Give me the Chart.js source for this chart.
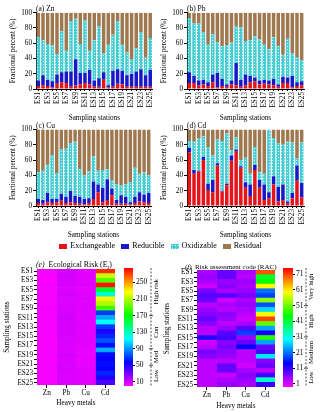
<!DOCTYPE html>
<html>
<head>
<meta charset="utf-8">
<script src="https://cdn.jsdelivr.net/npm/chart.js@4.4.1/dist/chart.umd.min.js"></script>
<style>
  body { margin: 0; background: #fff; }
  #wrap { position: relative; width: 321px; height: 412px; overflow: hidden; font-family: "Liberation Serif", serif; }
  #wrap canvas { position: absolute; }
  #legend { position: absolute; left: 0; top: 241px; width: 321px; height: 10px; display: flex; justify-content: center; align-items: center; font-size: 8px; line-height: 10px; }
  #legend .item { display: flex; align-items: center; margin: 0 3px; }
  #legend .sw { display: inline-block; width: 8px; height: 5px; margin-right: 3px; }
</style>
</head>
<body>
<div id="wrap">
  <canvas id="chartA" width="160" height="122" style="left:0px;top:0px"></canvas>
  <canvas id="chartB" width="161" height="122" style="left:160px;top:0px"></canvas>
  <canvas id="chartC" width="160" height="122" style="left:0px;top:117px"></canvas>
  <canvas id="chartD" width="161" height="122" style="left:160px;top:117px"></canvas>
  <div id="legend"></div>
  <canvas id="chartE" width="122" height="157" style="left:0px;top:255px"></canvas>
  <canvas id="barE" width="50" height="157" style="left:118px;top:255px"></canvas>
  <canvas id="chartF" width="120" height="157" style="left:160px;top:255px"></canvas>
  <canvas id="barF" width="44" height="157" style="left:277px;top:255px"></canvas>
</div>
<script>
// ---- data ----
const stations = ["ES1", "ES2", "ES3", "ES4", "ES5", "ES6", "ES7", "ES8", "ES9", "ES10", "ES11", "ES12", "ES13",
	"ES14", "ES15", "ES16", "ES17", "ES18", "ES19", "ES20", "ES21", "ES22", "ES23", "ES24", "ES25"];
const metals = ["Zn", "Pb", "Cu", "Cd"];
const fractions = ["Exchangeable", "Reducible", "Oxidizable", "Residual"];

// fractional percent (%), one value per station
const znExch = [4, 5, 4, 2, 7, 9, 8, 3, 5, 6, 8, 6, 3, 3, 12, 2, 3, 7, 6, 3, 3, 3, 3, 3, 3];
const znRed = [7, 13, 8, 8, 12, 13, 15, 20, 34, 15, 13, 19, 8, 11, 10, 3, 21, 19, 18, 15, 17, 20, 23, 15, 22];
const znOxi = [57, 46, 47, 47, 27, 54, 27, 66, 53, 38, 69, 25, 53, 68, 25, 53, 47, 63, 34, 30, 19, 30, 48, 23, 42];
const znRes = [32, 36, 41, 43, 54, 24, 50, 11, 8, 41, 10, 50, 36, 18, 53, 42, 29, 11, 42, 52, 61, 47, 26, 59, 33];

const pbExch = [8, 8, 5, 6, 4, 9, 2, 4, 3, 6, 5, 3, 5, 9, 10, 6, 7, 6, 5, 3, 8, 8, 2, 4, 5];
const pbRed = [14, 9, 6, 6, 5, 10, 19, 9, 3, 5, 29, 9, 14, 8, 5, 5, 5, 5, 8, 3, 8, 7, 15, 5, 5];
const pbOxi = [71, 69, 75, 62, 49, 53, 40, 43, 51, 50, 48, 69, 44, 47, 54, 54, 46, 41, 55, 50, 29, 51, 30, 33, 28];
const pbRes = [7, 14, 14, 26, 42, 28, 39, 44, 43, 39, 18, 19, 37, 36, 31, 35, 42, 48, 32, 44, 55, 34, 53, 58, 62];

const cuExch = [4, 3, 5, 4, 5, 7, 4, 5, 4, 3, 2, 4, 9, 18, 5, 8, 14, 3, 3, 3, 2, 4, 6, 5, 4];
const cuRed = [5, 5, 12, 5, 4, 9, 8, 15, 9, 9, 7, 6, 23, 10, 19, 27, 9, 5, 11, 9, 3, 8, 12, 10, 13];
const cuOxi = [35, 38, 37, 57, 34, 58, 63, 62, 71, 36, 31, 35, 33, 18, 23, 13, 11, 20, 13, 16, 26, 38, 24, 29, 23];
const cuRes = [56, 54, 46, 34, 57, 26, 25, 18, 16, 52, 60, 55, 35, 54, 53, 52, 66, 72, 73, 72, 69, 50, 58, 56, 60];

const cdExch = [70, 42, 45, 60, 21, 18, 53, 19, 27, 59, 71, 50, 24, 13, 47, 24, 8, 10, 28, 6, 8, 3, 10, 33, 11];
const cdRed = [6, 5, 1, 4, 8, 16, 3, 1, 2, 7, 3, 2, 7, 15, 7, 10, 20, 8, 11, 19, 20, 3, 7, 20, 19];
const cdOxi = [9, 37, 42, 27, 48, 32, 31, 65, 66, 7, 16, 8, 32, 14, 23, 10, 14, 81, 50, 57, 52, 78, 66, 9, 53];
const cdRes = [15, 16, 12, 9, 23, 34, 13, 15, 5, 27, 10, 40, 37, 58, 23, 56, 58, 1, 11, 18, 20, 16, 17, 38, 17];

// ecological risk factor Er
const erZn = [2, 2, 1, 2, 2, 2, 2, 2, 3, 2, 2, 2, 2, 2, 2, 1, 2, 2, 2, 2, 2, 2, 2, 2, 2];
const erPb = [9, 10, 9, 9, 8, 9, 8, 8, 8, 9, 10, 9, 9, 9, 9, 8, 8, 8, 9, 8, 8, 9, 8, 8, 8];
const erCu = [6, 6, 6, 7, 6, 7, 7, 7, 7, 6, 6, 6, 7, 6, 6, 6, 6, 5, 5, 5, 5, 6, 6, 6, 6];
const erCd = [275, 215, 190, 280, 160, 125, 230, 210, 185, 70, 95, 115, 70, 50, 65, 75, 60, 95, 60, 55, 60, 55, 65, 50, 40];

// colour bar ticks and risk classes
const erTicks = [10, 30, 50, 70, 90, 110, 130, 150, 170, 190, 210, 230, 250, 270];
const erBounds = [50, 90, 170];
const erClasses = ["Low", "Med", "Con", "High risk"];
const racTicks = [1, 11, 21, 31, 41, 51, 61, 71];
const racBounds = [11, 31, 51];
const racClasses = ["Low", "Medium", "High", "Very high"];

// ---- styles ----
Chart.defaults.font.family = '"Liberation Serif", "Times New Roman", serif';
Chart.defaults.font.size = 7.2;
Chart.defaults.color = "#000";

const fractionColors = ["#e3151b", "#1818c8", "#45cdd3", "#a07850"];
const rainbowStops = [
	[0, [255, 0, 255]],
	[0.2, [0, 0, 255]],
	[0.4, [0, 255, 255]],
	[0.6, [0, 255, 0]],
	[0.8, [255, 255, 0]],
	[1, [255, 0, 0]],
];

function rainbow(t) {
	t = Math.max(0, Math.min(1, t));
	for (let i = 1; i < rainbowStops.length; i++) {
		const [p1, c1] = rainbowStops[i];
		const [p0, c0] = rainbowStops[i - 1];
		if (t <= p1) {
			const f = (t - p0) / (p1 - p0);
			const c = c0.map((v, k) => Math.round(v + (c1[k] - v) * f));
			return `rgb(${c[0]},${c[1]},${c[2]})`;
		}
	}
	return "rgb(255,0,0)";
}

// dotted tile for the oxidizable fraction
const dotTile = document.createElement("canvas");
dotTile.width = 3;
dotTile.height = 3;
const tctx = dotTile.getContext("2d");
tctx.fillStyle = fractionColors[2];
tctx.fillRect(0, 0, 3, 3);
tctx.fillStyle = "#d6f6f6";
tctx.fillRect(1, 1, 1, 1);

/*######################################*
||            Small plugins            ||
*######################################*/

// panel caption drawn above the plot area
const panelTitle = {
	id: "panelTitle",
	afterDraw(chart, args, opts) {
		const { ctx, chartArea } = chart;
		let x = chartArea.left + (opts.dx || 0);
		const y = chartArea.top - (opts.dy || 1.5);
		ctx.save();
		ctx.fillStyle = "#000";
		ctx.textBaseline = "alphabetic";
		opts.parts.forEach((p) => {
			const size = p.sub ? opts.size * 0.7 : opts.size;
			ctx.font = `${p.italic ? "italic " : ""}${size}px "Liberation Serif"`;
			ctx.fillText(p.text, x, p.sub ? y + 1.5 : y);
			x += ctx.measureText(p.text).width;
		});
		ctx.restore();
	},
};

// dashed bracket with risk classes next to a colour bar
const riskBracket = {
	id: "riskBracket",
	afterDraw(chart, args, opts) {
		const { ctx } = chart;
		const s = chart.scales.y;
		const x = s.right + 1;
		const edges = [s.min, ...opts.bounds, s.max];
		ctx.save();
		ctx.strokeStyle = "#000";
		ctx.lineWidth = 0.7;
		ctx.setLineDash([2, 1.5]);
		ctx.beginPath();
		ctx.moveTo(x, s.top);
		ctx.lineTo(x, s.bottom);
		ctx.stroke();
		ctx.setLineDash([]);
		opts.bounds.forEach((b) => {
			const y = s.getPixelForValue(b);
			ctx.beginPath();
			ctx.moveTo(x - 2, y);
			ctx.lineTo(x + 2, y);
			ctx.stroke();
		});
		ctx.font = '6.8px "Liberation Serif"';
		ctx.fillStyle = "#000";
		ctx.textAlign = "center";
		ctx.textBaseline = "middle";
		opts.names.forEach((n, i) => {
			const y = (s.getPixelForValue(edges[i]) + s.getPixelForValue(edges[i + 1])) / 2;
			ctx.save();
			ctx.translate(x + 5, y);
			ctx.rotate(-Math.PI / 2);
			ctx.fillText(n, 0, 0);
			ctx.restore();
		});
		ctx.restore();
	},
};

/*######################################*
||      Stacked fraction panels       ||
*######################################*/

function fractionPanel(id, caption, series, pad) {
	new Chart(document.getElementById(id), {
		type: "bar",
		data: {
			labels: stations,
			datasets: series.map((values, i) => ({
				label: fractions[i],
				data: values,
				backgroundColor: i === 2 ? (c) => c.chart.ctx.createPattern(dotTile, "repeat") : fractionColors[i],
			})),
		},
		options: {
			responsive: false,
			animation: false,
			layout: { padding: pad },
			datasets: { bar: { barPercentage: 0.75, categoryPercentage: 1, borderWidth: 0 } },
			plugins: {
				legend: { display: false },
				tooltip: { enabled: false },
				panelTitle: { parts: [{ text: caption }], size: 7.5, dx: 0 },
			},
			scales: {
				x: {
					stacked: true,
					grid: { drawOnChartArea: false, offset: false, tickLength: 2, color: "#000" },
					border: { color: "#000" },
					ticks: {
						autoSkip: false,
						minRotation: 90,
						maxRotation: 90,
						padding: 1,
						callback: (v, i) => (i % 2 === 0 ? stations[i] : ""),
					},
					title: { display: true, text: "Sampling stations", padding: 0 },
					afterFit: (s) => {
						s.height = 33;
					},
				},
				y: {
					stacked: true,
					min: 0,
					max: 100,
					ticks: { stepSize: 20, padding: 1 },
					grid: { drawOnChartArea: false, tickLength: 3, color: "#000" },
					border: { color: "#000" },
					title: { display: true, text: "Fractional percent (%)", padding: 0 },
					afterFit: (s) => {
						s.width = 27;
					},
				},
			},
		},
		plugins: [panelTitle],
	});
}

fractionPanel("chartA", "(a) Zn", [znExch, znRed, znOxi, znRes], { left: 9, right: 6, top: 12.7, bottom: 0 });
fractionPanel("chartB", "(b) Pb", [pbExch, pbRed, pbOxi, pbRes], { left: 0, right: 17, top: 12.7, bottom: 0 });
fractionPanel("chartC", "(c) Cu", [cuExch, cuRed, cuOxi, cuRes], { left: 9, right: 9, top: 12.5, bottom: 0 });
fractionPanel("chartD", "(d) Cd", [cdExch, cdRed, cdOxi, cdRes], { left: 0, right: 17, top: 12.5, bottom: 0 });

// legend under the four panels
const legendBox = document.getElementById("legend");
fractions.forEach((name, i) => {
	const item = document.createElement("span");
	item.className = "item";
	const sw = document.createElement("span");
	sw.className = "sw";
	sw.style.background = i === 2 ? `url(${dotTile.toDataURL()})` : fractionColors[i];
	item.appendChild(sw);
	item.appendChild(document.createTextNode(name));
	legendBox.appendChild(item);
});

/*######################################*
||        Heat maps + colour bars      ||
*######################################*/

function heatmap(id, parts, titleOpts, columns, cmin, cmax, pad, xHeight) {
	new Chart(document.getElementById(id), {
		type: "bar",
		data: {
			labels: stations,
			datasets: columns.map((values, j) => ({
				label: metals[j],
				data: stations.map(() => [j, j + 1]),
				backgroundColor: values.map((v) => rainbow((v - cmin) / (cmax - cmin))),
			})),
		},
		options: {
			indexAxis: "y",
			responsive: false,
			animation: false,
			layout: { padding: pad },
			datasets: { bar: { grouped: false, barPercentage: 1, categoryPercentage: 1, borderWidth: 0 } },
			plugins: {
				legend: { display: false },
				tooltip: { enabled: false },
				panelTitle: Object.assign({ parts: parts }, titleOpts),
			},
			scales: {
				x: {
					type: "linear",
					min: 0,
					max: metals.length,
					afterBuildTicks: (s) => {
						s.ticks = metals.map((m, j) => ({ value: j + 0.5 }));
					},
					ticks: { padding: 1, callback: (v) => metals[Math.floor(v)] },
					grid: { drawOnChartArea: false, tickLength: 3, color: "#000" },
					border: { display: false },
					title: { display: true, text: "Heavy metals", padding: 0 },
					afterFit: (s) => {
						s.height = xHeight;
					},
				},
				y: {
					type: "category",
					grid: { drawOnChartArea: false, offset: false, tickLength: 3, color: "#000" },
					border: { display: false },
					ticks: { autoSkip: false, padding: 1, callback: (v, i) => (i % 2 === 0 ? stations[i] : "") },
					title: { display: true, text: "Sampling stations", padding: 0 },
					afterFit: (s) => {
						s.width = 34;
					},
				},
			},
		},
		plugins: [panelTitle],
	});
}

function colourBar(id, cmin, cmax, tickValues, bounds, names, pad, axisWidth) {
	new Chart(document.getElementById(id), {
		type: "bar",
		data: {
			labels: [""],
			datasets: [
				{
					data: [[cmin, cmax]],
					backgroundColor: (c) => {
						const area = c.chart.chartArea;
						if (!area) return null;
						const g = c.chart.ctx.createLinearGradient(0, area.bottom, 0, area.top);
						rainbowStops.forEach(([p, rgb]) => g.addColorStop(p, `rgb(${rgb.join(",")})`));
						return g;
					},
					barPercentage: 1,
					categoryPercentage: 1,
					borderWidth: 0,
				},
			],
		},
		options: {
			responsive: false,
			animation: false,
			layout: { padding: pad },
			plugins: {
				legend: { display: false },
				tooltip: { enabled: false },
				riskBracket: { bounds: bounds, names: names },
			},
			scales: {
				x: { display: false },
				y: {
					position: "right",
					min: cmin,
					max: cmax,
					afterBuildTicks: (s) => {
						s.ticks = tickValues.map((v) => ({ value: v }));
					},
					ticks: { padding: 1, font: { size: 7.5 } },
					grid: { drawOnChartArea: false, tickLength: 2, color: "#000" },
					border: { display: false },
					afterFit: (s) => {
						s.width = axisWidth;
					},
				},
			},
		},
		plugins: [riskBracket],
	});
}

heatmap(
	"chartE",
	[{ text: "(e)", italic: true }, { text: "  Ecological Risk (E" }, { text: "r", sub: true }, { text: ")" }],
	{ size: 7.8, dx: -1, dy: 2 },
	[erZn, erPb, erCu, erCd],
	0,
	285,
	{ left: 3, right: 7, top: 14, bottom: 5 },
	22
);
colourBar("barE", 0, 285, erTicks, erBounds, erClasses, { left: 6, right: 18, top: 13, bottom: 26 }, 17);

heatmap(
	"chartF",
	[{ text: "(f)", italic: true }, { text: "  Risk assessment code (RAC)" }],
	{ size: 7, dx: -12, dy: 1.5 },
	[znExch, pbExch, cuExch, cdExch],
	-1,
	75,
	{ left: 3, right: 5, top: 15, bottom: 2 },
	23
);
colourBar("barF", -1, 75, racTicks, racBounds, racClasses, { left: 6, right: 16, top: 13, bottom: 25 }, 12);
</script>
</body>
</html>
